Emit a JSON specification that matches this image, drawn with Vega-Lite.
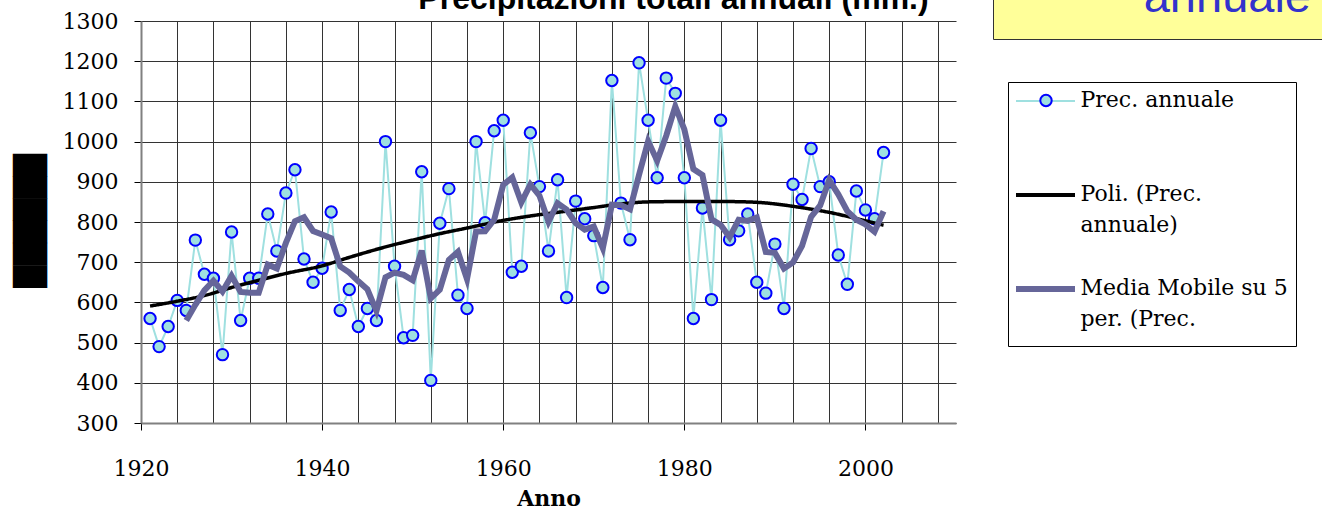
{
  "$schema": "https://vega.github.io/schema/vega-lite/v6.json",
  "width": 815,
  "height": 402,
  "autosize": "none",
  "padding": {"left": 141, "top": 21, "right": 366, "bottom": 104},
  "background": "white",
  "config": {"view": {"stroke": null}},
  "title": {
    "text": "Precipitazioni totali annuali (mm.)",
    "font": "Liberation Sans",
    "fontSize": 32,
    "fontWeight": "bold",
    "color": "#000000",
    "anchor": "middle",
    "frame": "group",
    "dx": 125,
    "offset": -56
  },
  "resolve": {"axis": {"x": "independent"}},
  "datasets": {
    "prec": [
      {"year":1921,"value":560},{"year":1922,"value":490},{"year":1923,"value":540},{"year":1924,"value":605},{"year":1925,"value":580},
      {"year":1926,"value":755},{"year":1927,"value":670},{"year":1928,"value":660},{"year":1929,"value":470},{"year":1930,"value":775},
      {"year":1931,"value":555},{"year":1932,"value":660},{"year":1933,"value":660},{"year":1934,"value":820},{"year":1935,"value":728},
      {"year":1936,"value":872},{"year":1937,"value":930},{"year":1938,"value":708},{"year":1939,"value":650},{"year":1940,"value":685},
      {"year":1941,"value":825},{"year":1942,"value":580},{"year":1943,"value":632},{"year":1944,"value":540},{"year":1945,"value":585},
      {"year":1946,"value":555},{"year":1947,"value":1000},{"year":1948,"value":690},{"year":1949,"value":512},{"year":1950,"value":518},
      {"year":1951,"value":925},{"year":1952,"value":406},{"year":1953,"value":797},{"year":1954,"value":883},{"year":1955,"value":618},
      {"year":1956,"value":585},{"year":1957,"value":1000},{"year":1958,"value":798},{"year":1959,"value":1027},{"year":1960,"value":1053},
      {"year":1961,"value":675},{"year":1962,"value":690},{"year":1963,"value":1022},{"year":1964,"value":888},{"year":1965,"value":728},
      {"year":1966,"value":905},{"year":1967,"value":612},{"year":1968,"value":852},{"year":1969,"value":808},{"year":1970,"value":766},
      {"year":1971,"value":637},{"year":1972,"value":1152},{"year":1973,"value":847},{"year":1974,"value":756},{"year":1975,"value":1196},
      {"year":1976,"value":1053},{"year":1977,"value":910},{"year":1978,"value":1158},{"year":1979,"value":1120},{"year":1980,"value":910},
      {"year":1981,"value":560},{"year":1982,"value":835},{"year":1983,"value":607},{"year":1984,"value":1053},{"year":1985,"value":756},
      {"year":1986,"value":778},{"year":1987,"value":820},{"year":1988,"value":650},{"year":1989,"value":623},{"year":1990,"value":745},
      {"year":1991,"value":585},{"year":1992,"value":894},{"year":1993,"value":856},{"year":1994,"value":983},{"year":1995,"value":888},
      {"year":1996,"value":900},{"year":1997,"value":718},{"year":1998,"value":645},{"year":1999,"value":877},{"year":2000,"value":830},
      {"year":2001,"value":808},{"year":2002,"value":973}
    ],
    "trend": [
      {"year":1921,"value":591},{"year":1924,"value":603},{"year":1927,"value":617},{"year":1930,"value":637},{"year":1933,"value":655},
      {"year":1936,"value":672},{"year":1940,"value":691},{"year":1943,"value":712},{"year":1947,"value":738},{"year":1950,"value":755},
      {"year":1953,"value":771},{"year":1956,"value":785},{"year":1960,"value":804},{"year":1963,"value":815},{"year":1967,"value":827},
      {"year":1970,"value":836},{"year":1973,"value":845},{"year":1976,"value":850},{"year":1980,"value":851},{"year":1984,"value":851},
      {"year":1988,"value":849},{"year":1990,"value":845},{"year":1992,"value":839},{"year":1994,"value":832},{"year":1996,"value":824},
      {"year":1998,"value":814},{"year":2000,"value":803},{"year":2002,"value":792}
    ],
    "ma": [
      {"year":1925,"value":555},{"year":1926,"value":594},{"year":1927,"value":630},{"year":1928,"value":654},{"year":1929,"value":627},
      {"year":1930,"value":666},{"year":1931,"value":626},{"year":1932,"value":624},{"year":1933,"value":624},{"year":1934,"value":694},
      {"year":1935,"value":684.6},{"year":1936,"value":748},{"year":1937,"value":802},{"year":1938,"value":811.6},{"year":1939,"value":777.6},
      {"year":1940,"value":769},{"year":1941,"value":759.6},{"year":1942,"value":689.6},{"year":1943,"value":674.4},{"year":1944,"value":652.4},
      {"year":1945,"value":632.4},{"year":1946,"value":578.4},{"year":1947,"value":662.4},{"year":1948,"value":674},{"year":1949,"value":668.4},
      {"year":1950,"value":655},{"year":1951,"value":729},{"year":1952,"value":610.2},{"year":1953,"value":631.6},{"year":1954,"value":705.8},
      {"year":1955,"value":725.8},{"year":1956,"value":657.8},{"year":1957,"value":776.6},{"year":1958,"value":776.8},{"year":1959,"value":805.6},
      {"year":1960,"value":892.6},{"year":1961,"value":910.6},{"year":1962,"value":848.6},{"year":1963,"value":893.4},{"year":1964,"value":865.6},
      {"year":1965,"value":800.6},{"year":1966,"value":846.6},{"year":1967,"value":831},{"year":1968,"value":797},{"year":1969,"value":781},
      {"year":1970,"value":788.6},{"year":1971,"value":735},{"year":1972,"value":843},{"year":1973,"value":842},{"year":1974,"value":831.6},
      {"year":1975,"value":917.6},{"year":1976,"value":1000.8},{"year":1977,"value":952.4},{"year":1978,"value":1014.6},{"year":1979,"value":1087.4},
      {"year":1980,"value":1030.2},{"year":1981,"value":931.6},{"year":1982,"value":916.6},{"year":1983,"value":806.4},{"year":1984,"value":793},
      {"year":1985,"value":762.2},{"year":1986,"value":805.8},{"year":1987,"value":802.8},{"year":1988,"value":811.4},{"year":1989,"value":725.4},
      {"year":1990,"value":723.2},{"year":1991,"value":684.6},{"year":1992,"value":699.4},{"year":1993,"value":740.6},{"year":1994,"value":812.6},
      {"year":1995,"value":841.2},{"year":1996,"value":904.2},{"year":1997,"value":869},{"year":1998,"value":826.8},{"year":1999,"value":805.6},
      {"year":2000,"value":794},{"year":2001,"value":775.6},{"year":2002,"value":826.6}
    ]
  },
  "layer": [
    {
      "data": {"name": "prec"},
      "mark": {"type": "line", "strokeWidth": 2},
      "encoding": {
        "x": {
          "field": "year", "type": "quantitative",
          "scale": {"domain": [1920, 2010], "nice": false, "zero": false},
          "axis": {
            "orient": "bottom",
            "values": [1920,1924,1928,1932,1936,1940,1944,1948,1952,1956,1960,1964,1968,1972,1976,1980,1984,1988,1992,1996,2000,2004,2008],
            "grid": true, "gridColor": "#333333", "gridWidth": 1,
            "labels": false, "ticks": false, "domain": false, "title": null
          }
        },
        "y": {
          "field": "value", "type": "quantitative",
          "scale": {"domain": [300, 1300], "nice": false, "zero": false},
          "axis": {
            "values": [300,400,500,600,700,800,900,1000,1100,1200,1300],
            "format": "d",
            "labelFont": "DejaVu Serif", "labelFontSize": 22, "labelColor": "#000000",
            "labelPadding": 16, "tickSize": 7, "tickColor": "#000000",
            "gridColor": "#333333", "gridWidth": 1,
            "domainColor": "#808080", "domainWidth": 2,
            "title": "██████", "titleFont": "DejaVu Sans", "titleFontSize": 29, "titleFontWeight": "normal",
            "titleColor": "#000000", "titleAngle": -90, "titleAlign": "center", "titleBaseline": "middle",
            "titleX": -111, "titleY": 199.5
          }
        },
        "color": {
          "datum": "Prec. annuale", "type": "nominal",
          "scale": {"domain": ["Prec. annuale", "Poli. (Prec. annuale)", "Media Mobile su 5 per. (Prec. annuale)"], "range": ["#9FE0E0", "#000000", "#666699"]},
          "legend": {
            "orient": "none", "legendX": 867, "legendY": 61, "zindex": 1,
            "title": " ", "titleOrient": "bottom", "titleFontSize": 1, "titlePadding": 7,
            "padding": 8, "strokeColor": "#000000",
            "symbolType": "stroke", "symbolSize": 3481, "clipHeight": 22, "symbolOffset": 18.5,
            "labelFont": "DejaVu Serif", "labelFontSize": 22, "labelColor": "#000000", "labelLimit": 400,
            "labelOffset": 24, "labelBaseline": "top", "rowPadding": 10,
            "labelExpr": "datum.label == 'Prec. annuale' ? ['Prec. annuale', '', ''] : datum.label == 'Poli. (Prec. annuale)' ? ['Poli. (Prec.', 'annuale)', ''] : ['Media Mobile su 5', 'per. (Prec.']",
            "encode": {
              "labels": {"update": {"dy": {"value": -11}, "lineHeight": {"value": 31}}},
              "symbols": {"update": {"strokeWidth": {"signal": "datum.value === 'Prec. annuale' ? 2 : datum.value === 'Poli. (Prec. annuale)' ? 4 : 6"}}}
            }
          }
        }
      }
    },
    {
      "data": {"name": "prec"},
      "mark": {"type": "point", "shape": "circle", "filled": false, "stroke": "#0000FF", "strokeWidth": 2, "size": 130, "opacity": 1, "fillOpacity": 1, "strokeOpacity": 1},
      "encoding": {
        "x": {
          "field": "year", "type": "quantitative",
          "axis": {
            "orient": "bottom",
            "values": [1920, 1940, 1960, 1980, 2000],
            "format": "d", "grid": false,
            "labelFont": "DejaVu Serif", "labelFontSize": 22, "labelColor": "#000000",
            "labelPadding": 28, "labelFlush": false, "labelOverlap": false,
            "tickSize": 7, "tickColor": "#000000",
            "domainColor": "#808080", "domainWidth": 2,
            "title": "Anno", "titleFont": "DejaVu Serif", "titleFontSize": 22, "titleFontWeight": "bold",
            "titleColor": "#000000", "titleBaseline": "alphabetic", "titleY": 82
          }
        },
        "y": {"field": "value", "type": "quantitative"},
        "fill": {
          "datum": "Prec. annuale (marker)", "type": "nominal",
          "scale": {"domain": ["Prec. annuale (marker)"], "range": ["#9FE0E0"]},
          "legend": {
            "orient": "none", "legendX": 898, "legendY": 72.5, "title": null, "zindex": 2,
            "padding": 0, "symbolType": "circle", "symbolSize": 130,
            "symbolStrokeColor": "#0000FF", "symbolStrokeWidth": 2, "symbolOpacity": 1,
            "labelExpr": "''", "labelFontSize": 1
          }
        }
      }
    },
    {
      "data": {"name": "trend"},
      "mark": {"type": "line", "strokeWidth": 3.5, "interpolate": "monotone"},
      "encoding": {
        "x": {"field": "year", "type": "quantitative", "axis": null},
        "y": {"field": "value", "type": "quantitative"},
        "color": {
          "datum": "Poli. (Prec. annuale)", "type": "nominal",
          "scale": {"domain": ["Prec. annuale", "Poli. (Prec. annuale)", "Media Mobile su 5 per. (Prec. annuale)"], "range": ["#9FE0E0", "#000000", "#666699"]}
        },
        "strokeDash": {
          "datum": "annuale", "type": "nominal",
          "scale": {"domain": ["annuale"], "range": [[1, 0]]},
          "legend": {
            "orient": "none", "legendX": 852, "legendY": -61, "zindex": 0,
            "title": "annuale", "titleFont": "Liberation Sans", "titleFontSize": 47, "titleFontWeight": "normal",
            "titleColor": "#3333CC", "titleAnchor": "end", "titlePadding": 0, "titleLimit": 500,
            "padding": 15, "fillColor": "#FFFF99", "strokeColor": "#333333",
            "symbolType": "stroke", "symbolSize": 88209, "symbolOpacity": 0, "clipHeight": 2,
            "labelExpr": "''", "labelFontSize": 1,
            "encode": {"legend": {"update": {"strokeWidth": {"value": 2}}}}
          }
        }
      }
    },
    {
      "data": {"name": "ma"},
      "mark": {"type": "line", "strokeWidth": 6, "strokeJoin": "miter"},
      "encoding": {
        "x": {"field": "year", "type": "quantitative", "axis": null},
        "y": {"field": "value", "type": "quantitative"},
        "color": {
          "datum": "Media Mobile su 5 per. (Prec. annuale)", "type": "nominal",
          "scale": {"domain": ["Prec. annuale", "Poli. (Prec. annuale)", "Media Mobile su 5 per. (Prec. annuale)"], "range": ["#9FE0E0", "#000000", "#666699"]}
        }
      }
    }
  ]
}
